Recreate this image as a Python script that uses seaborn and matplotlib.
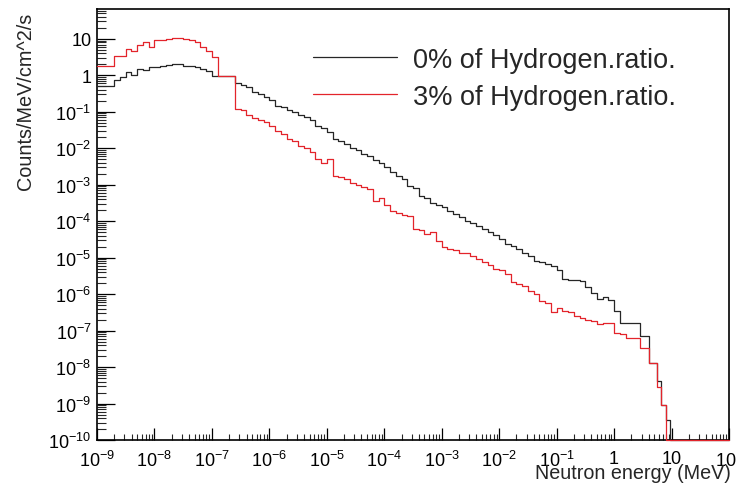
import numpy as np
import pandas as pd
import matplotlib
matplotlib.use("Agg")
import matplotlib.pyplot as plt
from matplotlib.ticker import LogLocator, NullFormatter
import seaborn as sns

# ---------------- data ----------------
# bin edges in MeV: regular 0.1-decade bins up to 2 MeV, then the wide tail bins
edges_regular = np.logspace(-9, 0.3, 94)
edges_tail = [2.82, 4.07, 5.62, 6.6, 8.1, 9.5, 100.0]

# log10 of Counts/MeV/cm^2/s per bin (-10 = empty bin, drawn on the floor)
log_flux_0pct = [
    -0.28, -0.28, -0.28, -0.13, -0.05, 0.08, 0.00, 0.18, 0.16, 0.22,
    0.24, 0.25, 0.28, 0.31, 0.30, 0.26, 0.25, 0.22, 0.18, 0.13,
    -0.03, -0.03, -0.03, -0.03, -0.21, -0.26, -0.33, -0.46, -0.52, -0.60,
    -0.68, -0.83, -0.88, -0.95, -1.01, -1.10, -1.15, -1.22, -1.38, -1.45,
    -1.55, -1.75, -1.80, -1.88, -1.98, -2.05, -2.15, -2.20, -2.32, -2.40,
    -2.50, -2.66, -2.75, -2.85, -3.03, -3.10, -3.30, -3.35, -3.49, -3.55,
    -3.62, -3.72, -3.80, -3.88, -3.99, -4.05, -4.12, -4.22, -4.30, -4.38,
    -4.48, -4.63, -4.68, -4.75, -4.86, -4.95, -5.09, -5.12, -5.18, -5.23,
    -5.35, -5.59, -5.60, -5.62, -5.64, -5.80, -5.96, -6.14, -6.09, -6.17,
    -6.46, -6.78, -6.78,
    -6.78, -7.15, -7.88, -8.39, -9.03, -9.44, -10.0,
]
log_flux_3pct = [
    0.27, 0.27, 0.27, 0.52, 0.52, 0.73, 0.66, 0.82, 0.91, 0.78,
    0.98, 0.98, 1.00, 1.02, 1.02, 0.99, 0.98, 0.91, 0.77, 0.66,
    0.50, -0.03, -0.03, -0.03, -0.92, -0.95, -1.10, -1.18, -1.22, -1.29,
    -1.40, -1.52, -1.60, -1.75, -1.80, -1.93, -2.00, -2.10, -2.30, -2.40,
    -2.30, -2.75, -2.80, -2.85, -2.94, -3.00, -3.07, -3.12, -3.45, -3.35,
    -3.55, -3.72, -3.78, -3.82, -3.85, -4.22, -4.25, -4.35, -4.30, -4.55,
    -4.72, -4.75, -4.80, -4.86, -4.88, -4.95, -5.05, -5.13, -5.20, -5.30,
    -5.35, -5.46, -5.68, -5.72, -5.78, -5.91, -6.00, -6.19, -6.25, -6.50,
    -6.37, -6.46, -6.50, -6.60, -6.65, -6.70, -6.75, -6.83, -6.80, -6.80,
    -7.06, -7.10, -7.20,
    -7.20, -7.47, -7.88, -8.56, -9.03, -10.0, -10.0,
]
series_names = ["0% of Hydrogen.ratio.", "3% of Hydrogen.ratio."]
series_colors = ["#262626", "#e3242b"]

x_tick_values = [1e-9, 1e-8, 1e-7, 1e-6, 1e-5, 1e-4, 1e-3, 1e-2, 1e-1, 1, 10, 100]
x_tick_labels = ["$10^{-9}$", "$10^{-8}$", "$10^{-7}$", "$10^{-6}$", "$10^{-5}$",
                 "$10^{-4}$", "$10^{-3}$", "$10^{-2}$", "$10^{-1}$", "1", "10", "$10^{2}$"]
y_tick_values = [1e-10, 1e-9, 1e-8, 1e-7, 1e-6, 1e-5, 1e-4, 1e-3, 1e-2, 1e-1, 1, 10]
y_tick_labels = ["$10^{-10}$", "$10^{-9}$", "$10^{-8}$", "$10^{-7}$", "$10^{-6}$",
                 "$10^{-5}$", "$10^{-4}$", "$10^{-3}$", "$10^{-2}$", "$10^{-1}$", "1", "10"]

# ---------------- build long table for seaborn ----------------
edges = np.concatenate([edges_regular, edges_tail])
frames = []
for name, logs in zip(series_names, [log_flux_0pct, log_flux_3pct]):
    vals = np.power(10.0, np.array(logs))
    yv = np.append(vals, vals[-1])  # steps-post needs a closing point
    frames.append(pd.DataFrame({"energy": edges, "flux": yv, "series": name}))
df = pd.concat(frames, ignore_index=True)

# ---------------- style ----------------
sns.set_style("ticks")
plt.rcParams["font.family"] = ["Liberation Sans", "DejaVu Sans"]
plt.rcParams["mathtext.fontset"] = "custom"
plt.rcParams["mathtext.rm"] = "Liberation Sans"
plt.rcParams["mathtext.it"] = "Liberation Sans:italic"
plt.rcParams["mathtext.bf"] = "Liberation Sans:bold"

fig = plt.figure(figsize=(7.36, 4.85), dpi=100)
ax = fig.add_axes([97 / 736, 1 - 441 / 485, 632 / 736, 431 / 485])

sns.lineplot(data=df, x="energy", y="flux", hue="series", hue_order=series_names,
             palette=series_colors, estimator=None, sort=False,
             drawstyle="steps-post", linewidth=0.9, ax=ax, legend=True)
for ln in ax.get_lines():
    ln.set_clip_on(False)
    ln.set_zorder(3)

ax.set_xscale("log")
ax.set_yscale("log")
ax.set_xlim(1e-9, 100)
ax.set_ylim(1e-10, 66)

ax.set_xticks(x_tick_values, x_tick_labels)
ax.set_yticks(y_tick_values, y_tick_labels)
ax.xaxis.set_minor_locator(LogLocator(base=10, subs=np.arange(2, 10), numticks=50))
ax.yaxis.set_minor_locator(LogLocator(base=10, subs=np.arange(2, 10), numticks=50))
ax.xaxis.set_minor_formatter(NullFormatter())
ax.yaxis.set_minor_formatter(NullFormatter())

ax.tick_params(axis="x", which="major", direction="in", length=9, width=0.9,
               labelsize=13, pad=7, colors="black")
ax.tick_params(axis="x", which="minor", direction="in", length=4.5, width=0.8)
ax.tick_params(axis="y", which="major", direction="in", length=13, width=0.9,
               labelsize=13, pad=4, colors="black")
ax.tick_params(axis="y", which="minor", direction="in", length=6.5, width=0.8)
for s in ax.spines.values():
    s.set_linewidth(1.2)
    s.set_color("black")

ax.set_xlabel("Neutron energy (MeV)", fontsize=14.2, loc="right")
ax.xaxis.set_label_coords(1.003, -0.053)
ax.set_ylabel("Counts/MeV/cm^2/s", fontsize=14.3, loc="top")
ax.yaxis.set_label_coords(-0.098, 0.993)

h, l = ax.get_legend_handles_labels()
ax.legend(h, l, loc="upper left", bbox_to_anchor=(0.342, 0.912), frameon=False,
          fontsize=19.5, handlelength=3.1, handletextpad=0.6, borderpad=0,
          borderaxespad=0, labelspacing=0.4)

fig.savefig("out.png", dpi=100)
